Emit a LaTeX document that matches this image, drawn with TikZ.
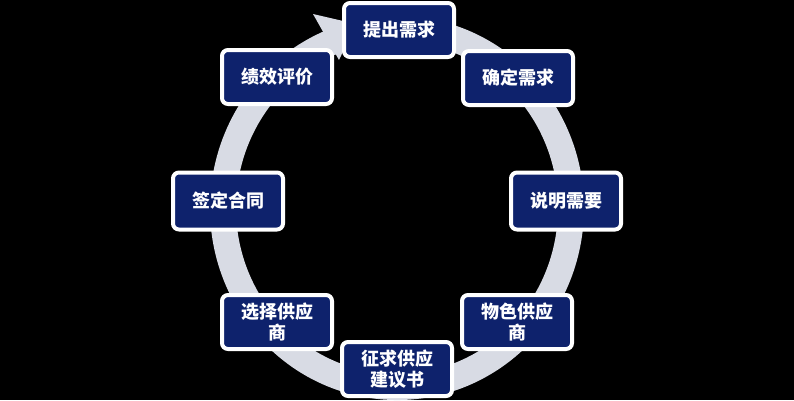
\documentclass[tikz,border=0pt]{standalone}
\usepackage{fontspec}
\newfontfamily\cjk{Noto Sans CJK SC}
\definecolor{ringgray}{RGB}{216,219,228}
\definecolor{navybox}{RGB}{14,34,108}
\begin{document}
\begin{tikzpicture}[x=1pt,y=1pt,
  stagebox/.style={draw=white, fill=navybox, line width=4pt, rounded corners=6pt,
    minimum width=110pt, minimum height=54pt, inner sep=2pt, align=center,
    text=white, font=\cjk\bfseries\fontsize{18}{21}\selectfont},
  ringline/.style={draw=ringgray, line width=26pt}]
\fill[black] (0,0) rectangle (794,-400);
\useasboundingbox (0,0) rectangle (794,-400);
% ring
\coordinate (c) at (397,-208);
\draw[ringline] (c) ++(80:174 and 179) arc[start angle=80, end angle=-248, x radius=174, y radius=179];
\coordinate (barbout) at (313,-14);
\coordinate (tip) at (356,-24);
\coordinate (barbin) at (339,-60);
\fill[ringgray] (barbout) -- (tip) -- (barbin) -- cycle;
% stages
\node[stagebox] (s1) at (399,-30) {提出需求};
\node[stagebox] (s2) at (518,-78) {确定需求};
\node[stagebox, minimum height=57pt] (s3) at (566,-201) {说明需要};
\node[stagebox] (s4) at (517,-322) {物色供应\\商};
\node[stagebox] (s5) at (397,-369) {征求供应\\建议书};
\node[stagebox] (s6) at (277,-322) {选择供应\\商};
\node[stagebox, minimum height=57pt] (s7) at (228,-201) {签定合同};
\node[stagebox] (s8) at (277,-77) {绩效评价};
\end{tikzpicture}
\end{document}
